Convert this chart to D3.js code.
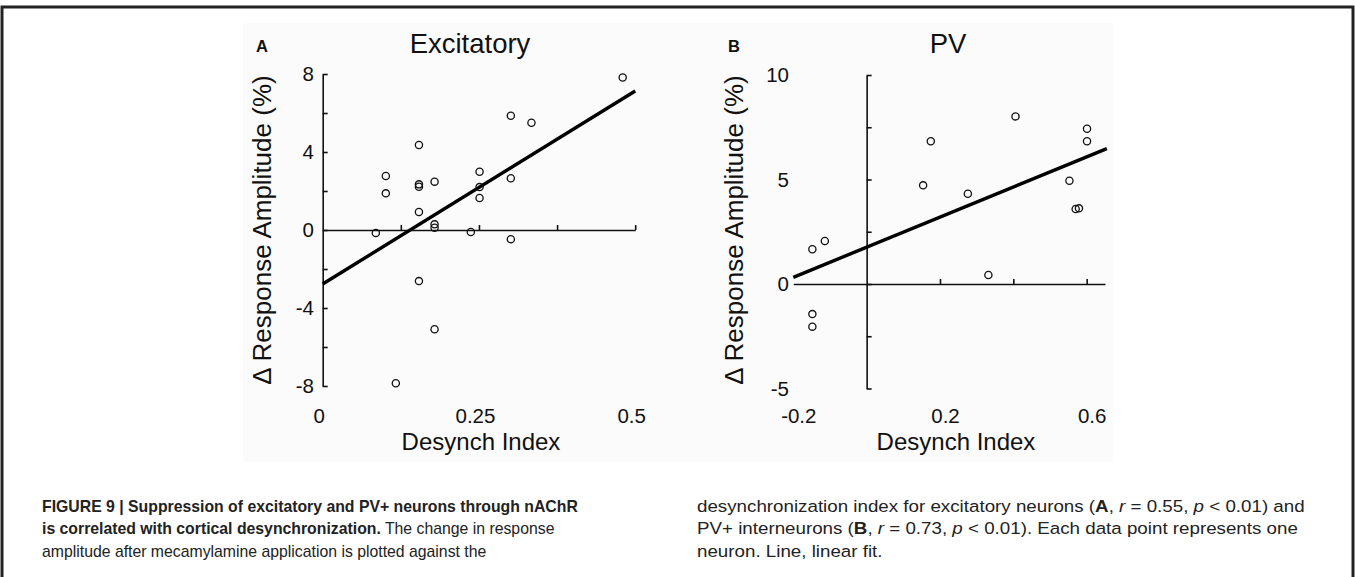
<!DOCTYPE html>
<html><head><meta charset="utf-8">
<script src="https://cdn.jsdelivr.net/npm/d3@7"></script>
<style>
body{margin:0;background:#fff}
svg{display:block}
.ax path,.ax line{stroke:#111;stroke-width:1.6px}
.tick text{font-family:"Liberation Sans",Arial,sans-serif;font-size:20.5px;fill:#111}
</style>
</head><body>
<svg id="c" width="1355" height="577"></svg>
<script>
// ---------- DATA ----------
// Panel A: Excitatory
const excX = [0.085,0.101,0.101,0.117,0.154,0.154,0.154,0.154,0.154,0.179,0.179,0.179,0.179,0.237,0.251,0.251,0.251,0.301,0.301,0.301,0.334,0.480];
const excY = [-0.15,2.77,1.88,-7.86,4.36,2.34,2.22,0.92,-2.62,2.48,0.29,0.12,-5.09,-0.10,2.99,2.20,1.64,5.86,2.65,-0.47,5.50,7.82];
const excFitX = [0, 0.5];
const excFitY = [-2.77, 7.13];
const excYTicks = [-8,-6,-4,-2,0,2,4,6,8];
const excYLabels = [-8,-4,0,4,8];
const excXTicks = [0.125,0.25,0.375,0.5];
const excXLabels = [0,0.25,0.5];

// Panel B: PV
const pvX = [-0.148,-0.148,-0.148,-0.114,0.154,0.175,0.276,0.332,0.406,0.553,0.570,0.579,0.601,0.601];
const pvY = [1.66,-1.44,-2.04,2.06,4.72,6.83,4.32,0.43,8.02,4.94,3.59,3.62,7.43,6.83];
const pvFitX = [-0.2, 0.655];
const pvFitY = [0.32, 6.48];
const pvYTicks = [-5,-2.5,0,2.5,5,7.5,10];
const pvYLabels = [-5,0,5,10];
const pvXTicks = [0.2,0.4,0.6];
const pvXLabels = [-0.2,0.2,0.6];

const titles = ["Excitatory","PV"];
const panelLetters = ["A","B"];
const xTitle = "Desynch Index";
const yTitle = "\u0394 Response Amplitude (%)";

const captionLeft = [
  [["FIGURE 9 | Suppression of excitatory and PV+ neurons through nAChR","b"]],
  [["is correlated with cortical desynchronization.","b"],[" The change in response",""]],
  [["amplitude after mecamylamine application is plotted against the",""]]
];
const captionRight = [
  [["desynchronization index for excitatory neurons (",""],["A","b"],[", ",""],["r","i"],[" = 0.55, ",""],["p","i"],[" < 0.01) and",""]],
  [["PV+ interneurons (",""],["B","b"],[", ",""],["r","i"],[" = 0.73, ",""],["p","i"],[" < 0.01). Each data point represents one",""]],
  [["neuron. Line, linear fit.",""]]
];

// ---------- DRAW ----------
const svg = d3.select("#c");
const FONT = '"Liberation Sans",Arial,sans-serif';
const fmt = d => String(d);

// frame
svg.append("path").attr("d","M2,577V7H1353V577").attr("fill","none").attr("stroke","#222").attr("stroke-width",3);
// faint figure background
svg.append("rect").attr("x",243).attr("y",23).attr("width",870).attr("height",439).attr("fill","#fbfbfb");

function panel(cfg){
  const g = svg.append("g");
  const x = d3.scaleLinear().domain(cfg.xDom).range(cfg.xRange);
  const y = d3.scaleLinear().domain(cfg.yDom).range(cfg.yRange);

  g.append("g").attr("class","ax").attr("transform",`translate(0,${y(0)})`)
    .call(d3.axisTop(x).tickValues(cfg.xTicks).tickSize(5).tickSizeOuter(0).tickFormat(""));
  g.append("g").attr("class","ax").attr("transform",`translate(${x(0)},0)`)
    .call(d3.axisRight(y).tickValues(cfg.yTicks).tickSize(5).tickSizeOuter(0).tickFormat(""));
  const yl = g.append("g").attr("class","ax").attr("transform",`translate(${cfg.yLabelX},0)`)
    .call(d3.axisLeft(y).tickValues(cfg.yLabels).tickSize(0).tickPadding(0).tickFormat(fmt));
  yl.select(".domain").remove();
  const xl = g.append("g").attr("class","ax").attr("transform","translate(0,408)")
    .call(d3.axisBottom(x).tickValues(cfg.xLabels).tickSize(0).tickPadding(0).tickFormat(fmt));
  xl.select(".domain").remove();
  xl.selectAll("text").attr("dx",cfg.xLabelDx);

  const fit = cfg.fitX.map((v,i)=>[v,cfg.fitY[i]]);
  g.append("path").datum(fit)
    .attr("d",d3.line().x(d=>x(d[0])).y(d=>y(d[1])))
    .attr("fill","none").attr("stroke","#000").attr("stroke-width",3.4);

  const pts = cfg.px.map((v,i)=>[v,cfg.py[i]]);
  g.selectAll("circle.pt").data(pts).join("circle").attr("class","pt")
    .attr("cx",d=>x(d[0])).attr("cy",d=>y(d[1])).attr("r",3.6)
    .attr("fill","none").attr("stroke","#111").attr("stroke-width",1.3);

  g.append("text").attr("x",cfg.titleX).attr("y",53).attr("text-anchor","middle")
    .attr("font-family",FONT).attr("font-size",27.5).attr("fill","#111").text(cfg.title);
  g.append("text").attr("x",cfg.letterX).attr("y",52)
    .attr("font-family",FONT).attr("font-size",16.5).attr("font-weight","bold").attr("fill","#111").text(cfg.letter);
  g.append("text").attr("x",cfg.xTitleX).attr("y",450).attr("text-anchor","middle")
    .attr("font-family",FONT).attr("font-size",24).attr("fill","#111").text(xTitle);
  g.append("text").attr("transform",`translate(${cfg.yTitleX},230) rotate(-90)`).attr("text-anchor","middle")
    .attr("font-family",FONT).attr("font-size",26).attr("fill","#111").text(yTitle);
}

panel({xDom:[0,0.5], xRange:[322.7,635.2], yDom:[-8,8], yRange:[386,74],
  xTicks:excXTicks, yTicks:excYTicks, yLabels:excYLabels, xLabels:excXLabels,
  yLabelX:314, xLabelDx:-4, fitX:excFitX, fitY:excFitY, px:excX, py:excY,
  title:titles[0], letter:panelLetters[0], titleX:470, letterX:256, xTitleX:481, yTitleX:271});

panel({xDom:[-0.2,0.65], xRange:[793.3,1105], yDom:[-5,10], yRange:[388.5,75],
  xTicks:pvXTicks, yTicks:pvYTicks, yLabels:pvYLabels, xLabels:pvXLabels,
  yLabelX:789, xLabelDx:5, fitX:pvFitX, fitY:pvFitY, px:pvX, py:pvY,
  title:titles[1], letter:panelLetters[1], titleX:948, letterX:728, xTitleX:956, yTitleX:743});

function caption(lines, x0, targetW){
  const g = svg.append("g");
  const texts = lines.map((segs,i)=>{
    const t = g.append("text").attr("x",0).attr("y",512+i*22.5)
      .attr("font-family",'"Liberation Sans Narrow","Arial Narrow",' + FONT).attr("font-size",17).attr("fill","#222");
    segs.forEach(s=>{
      const ts = t.append("tspan").text(s[0]);
      if(s[1]==="b") ts.attr("font-weight","bold");
      if(s[1]==="i") ts.attr("font-style","italic");
    });
    return t;
  });
  const w = texts[0].node().getComputedTextLength();
  const k = targetW / w;
  g.attr("transform",`translate(${x0},0) scale(${k},1)`);
}
caption(captionLeft, 42, 536);
caption(captionRight, 697, 608);
</script>
</body></html>
